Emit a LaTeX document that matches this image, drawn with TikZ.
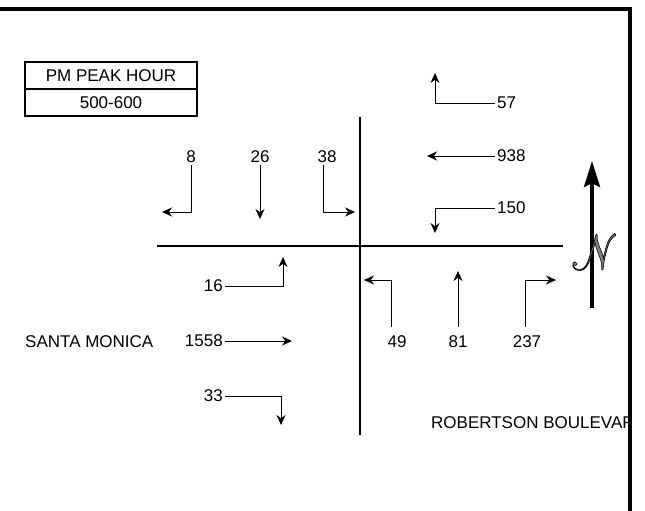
\documentclass[tikz,border=0pt]{standalone}
\usepackage{fontspec}
\setmainfont{Liberation Sans}
\usepackage{mathrsfs}
\usetikzlibrary{arrows.meta}
\newcommand\myoutlineN{\textcolor{gray}{\special{pdf:literal direct 0 G 0.12 w 2 Tr}$\mathscr{N}$\special{pdf:literal direct 0 Tr}}}
\begin{document}
\begin{tikzpicture}[x=1pt,y=-1pt,
  lbl/.style={font=\fontsize{17}{19}\selectfont, inner sep=2pt},
  arr/.style={line width=1pt, -{Stealth[length=10pt,width=9pt]}},
  street/.style={line width=2pt},
  legendbox/.style={draw, line width=1.6pt, minimum width=172pt, minimum height=27pt, inner sep=0pt, font=\fontsize{17}{19}\selectfont}]
\useasboundingbox (0,0) rectangle (645,511);
% legend
\node[legendbox] (h1) at (111,75.5) {PM PEAK HOUR};
\node[legendbox] (h2) at (111,102.5) {500-600};
% streets
\coordinate (vtop) at (360,117);
\coordinate (vbot) at (360,435);
\coordinate (hl) at (157,246);
\coordinate (hr) at (563,246);
\draw[street] (vtop) -- (vbot);
\draw[street] (hl) -- (hr);
% east side (westbound)
\node[lbl,anchor=west] (n57) at (495,103) {57};
\coordinate (t57) at (435,73);
\draw[arr] (n57.west) -| (t57);
\node[lbl,anchor=west] (n938) at (495,156) {938};
\coordinate (t938) at (427,156);
\draw[arr] (n938.west) -- (t938);
\node[lbl,anchor=west] (n150) at (495,208) {150};
\coordinate (t150) at (435,233);
\draw[arr] (n150.west) -| (t150);
% north side (southbound)
\node[lbl] (n8) at (191,157) {8};
\coordinate (t8) at (162,212);
\draw[arr] (n8.south) |- (t8);
\node[lbl] (n26) at (260,157) {26};
\coordinate (t26) at (260,219);
\draw[arr] (n26.south) -- (t26);
\node[lbl] (n38) at (327,157) {38};
\coordinate (t38) at (355,212);
\draw[arr] ([xshift=-4pt]n38.south) |- (t38);
% west side (eastbound)
\node[lbl,anchor=east] (n16) at (225,286) {16};
\coordinate (t16) at (283,257);
\draw[arr] (n16.east) -| (t16);
\node[lbl,anchor=east] (n1558) at (225,341) {1558};
\coordinate (t1558) at (292,341);
\draw[arr] (n1558.east) -- (t1558);
\node[lbl,anchor=east] (n33) at (225,396) {33};
\coordinate (t33) at (281,425);
\draw[arr] (n33.east) -| (t33);
% south side (northbound)
\node[lbl] (n49) at (397,342) {49};
\coordinate (t49) at (364,280);
\draw[arr] ([xshift=-6pt,yshift=7pt]n49.north) |- (t49);
\node[lbl] (n81) at (458,342) {81};
\coordinate (t81) at (458,271);
\draw[arr] ([yshift=7pt]n81.north) -- (t81);
\node[lbl] (n237) at (527,342) {237};
\coordinate (t237) at (556,280);
\draw[arr] ([xshift=-2pt,yshift=7pt]n237.north) |- (t237);
% street names
\node[lbl,anchor=west] (sm) at (23,342) {SANTA MONICA};
\begin{scope}
\clip (0,0) rectangle (630,511);
\node[lbl,anchor=west] (rb) at (429,423) {ROBERTSON BOULEVAR};
\end{scope}
% north arrow
\coordinate (nb) at (592,308);
\coordinate (nt) at (592,161);
\draw[line width=4pt, -{Stealth[length=26pt,width=16pt,inset=4pt]}] (nb) -- (nt);
\begin{scope}[shift={(595,252)}, xslant=-0.35]
\node[inner sep=0pt, transform shape] (north) at (0,0) {\scalebox{4.6}[5]{\myoutlineN}};
\end{scope}
% frame
\draw[line width=4pt, line join=miter] (0,9) -- (630,9) -- (630,511);
\end{tikzpicture}
\end{document}
